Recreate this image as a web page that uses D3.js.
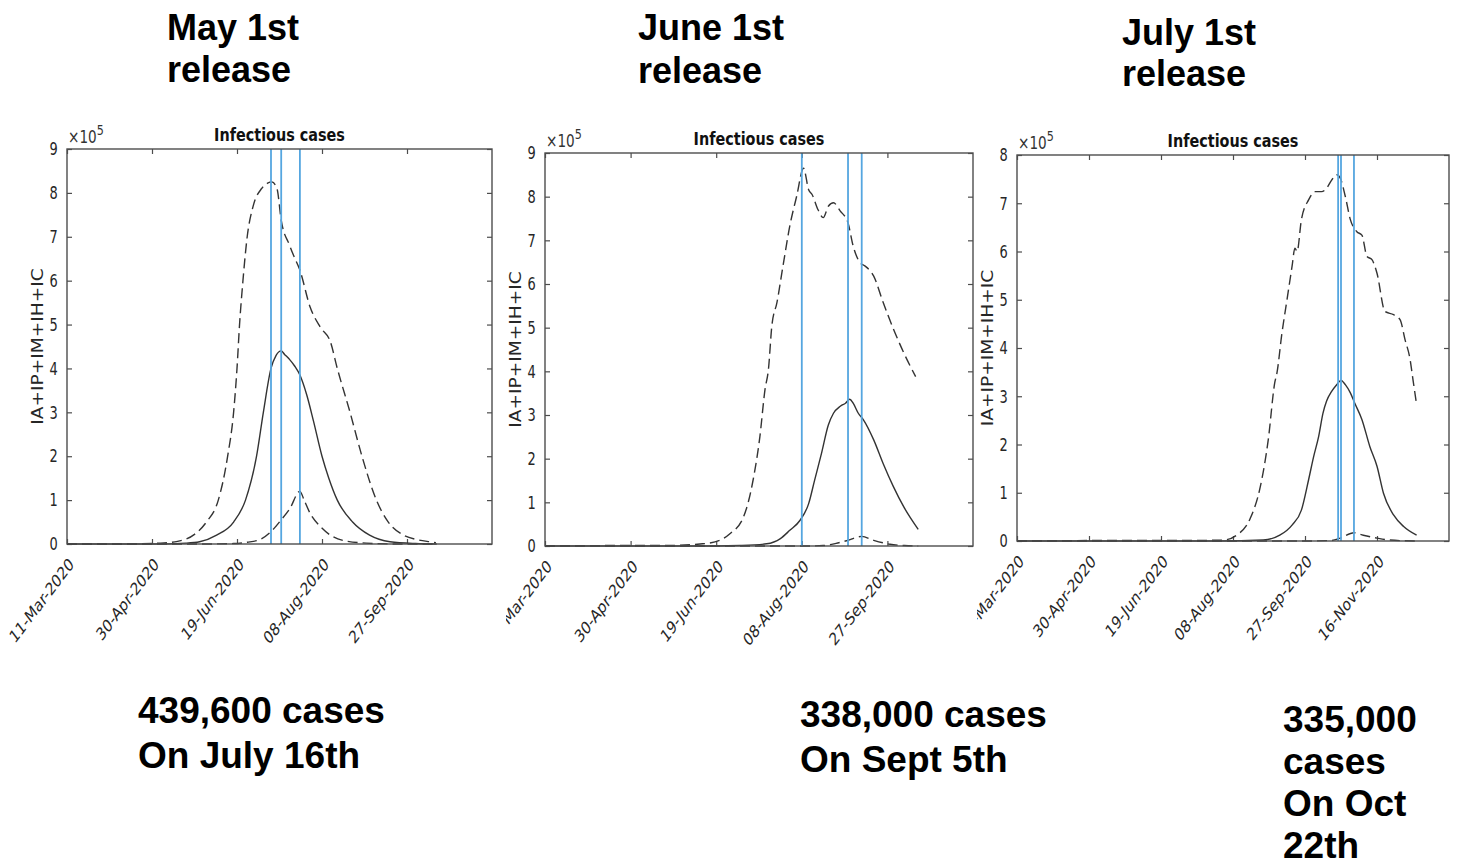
<!DOCTYPE html>
<html>
<head>
<meta charset="utf-8">
<script src="https://cdn.jsdelivr.net/npm/d3@7"></script>
<style>
  body { margin: 0; background: #fff; }
  .big { font-family: "Liberation Sans", Arial, sans-serif; font-weight: bold; fill: #000; }
  .ax text { font-family: "DejaVu Sans", sans-serif; fill: #262626; }
</style>
</head>
<body>
<script>
// values are in units of 10^5 cases, x is days after 11-Mar-2020
var startDate = "11-Mar-2020";
var ticksSpring = ["11-Mar-2020", "30-Apr-2020", "19-Jun-2020", "08-Aug-2020", "27-Sep-2020"];
var ticksAutumn = ["11-Mar-2020", "30-Apr-2020", "19-Jun-2020", "08-Aug-2020", "27-Sep-2020", "16-Nov-2020"];

var may_total = [[0,0],[30,0],[55,0.02],[65,0.06],[75,0.22],[82,0.5],[89,1.0],[94.5,2.0],[98,3.0],[100,4.0],[101.5,5.0],[103.5,6.0],[106,7.0],[109.5,7.7],[114.5,8.1],[118,8.22],[120.5,8.25],[123.5,8.1],[126,7.38],[131,6.8],[133,6.6],[137,6.24],[143,5.4],[149,4.94],[155,4.6],[159,4.0],[166.5,3.0],[173.5,2.0],[182,1.0],[189,0.5],[198,0.2],[206,0.1],[213.5,0.05],[217,0.03]];
var may_mid = [[0,0],[50,0],[70,0.02],[78,0.05],[88,0.2],[98,0.5],[105,1.0],[111.5,2.0],[115.5,3.0],[120,4.0],[123,4.3],[126,4.4],[128,4.32],[131,4.2],[134,4.05],[137,3.85],[141,3.4],[145,2.8],[150,2.0],[154,1.5],[159,1.0],[168,0.5],[178,0.2],[190,0.05],[205,0.01],[217.5,0]];
var may_low = [[0,0],[80,0],[98,0.01],[106,0.04],[113.5,0.1],[120.5,0.3],[126,0.55],[131,0.8],[137,1.2],[139.5,1.0],[143,0.7],[149,0.4],[155,0.2],[162.5,0.08],[176,0.02],[195,0],[217.5,0]];
var may_markers = ["09-Jul-2020", "15-Jul-2020", "26-Jul-2020"];

var june_total = [[0,0],[40,0.01],[70,0.01],[92,0.05],[102,0.13],[108,0.28],[116,0.67],[121.5,1.5],[125.5,2.5],[128.5,3.58],[130.5,4.04],[132.5,5.04],[135.5,5.58],[139,6.41],[143,7.33],[147,8.01],[151,8.65],[154,8.16],[156,8.05],[159.5,7.7],[162.5,7.52],[165.5,7.78],[168.5,7.86],[172.5,7.67],[177,7.4],[180,6.87],[184,6.49],[187,6.41],[192,6.18],[197.5,5.58],[203.5,4.97],[209.5,4.43],[216.5,3.88]];
var june_mid = [[0,0],[100,0],[114,0.01],[129.5,0.05],[137.5,0.17],[143,0.36],[149,0.59],[154,0.97],[157.5,1.51],[161.5,2.12],[165.5,2.77],[168.5,3.04],[172.5,3.2],[175.5,3.27],[178,3.36],[180,3.27],[183,3.04],[186,2.89],[192,2.43],[197.5,1.89],[203.5,1.36],[209.5,0.9],[218,0.38]];
var june_low = [[0,0],[150,0],[162.5,0.01],[170,0.06],[177,0.13],[185,0.22],[192,0.13],[201.5,0.04],[210,0.01],[218,0]];
var june_markers = ["08-Aug-2020", "04-Sep-2020", "12-Sep-2020"];

var july_total = [[0,0],[60,0.01],[120,0.01],[143.5,0.02],[152.5,0.12],[162,0.47],[169,1.13],[174.5,2.1],[179,3.28],[180.5,3.48],[184,4.31],[187.5,5.0],[191,5.69],[193,6.07],[194.5,6.0],[197.5,6.66],[202.5,7.07],[207,7.24],[211.5,7.24],[215,7.31],[218.5,7.48],[222,7.59],[224.5,7.52],[228,7.14],[231.5,6.66],[236,6.41],[239.5,6.34],[243,5.9],[246.5,5.83],[250,5.55],[255.5,4.76],[261.5,4.69],[266,4.59],[269.5,4.17],[273,3.76],[275,3.34],[277.5,2.83]];
var july_mid = [[0,0],[140,0],[171,0.02],[182.5,0.12],[191,0.33],[197.5,0.64],[202.5,1.27],[206,1.75],[209.5,2.17],[212.5,2.65],[215,2.9],[218.5,3.1],[222,3.24],[225,3.33],[228,3.24],[231.5,3.07],[234.5,2.86],[239.5,2.52],[245,1.96],[250,1.55],[254.5,0.99],[261.5,0.54],[268.5,0.3],[277.5,0.12]];
var july_low = [[0,0],[200,0],[218,0.01],[224.5,0.06],[234,0.17],[240.5,0.12],[250,0.06],[259,0.02],[277.5,0]];
var july_markers = ["20-Oct-2020", "22-Oct-2020", "31-Oct-2020"];

var headings = [["May 1st", "release"], ["June 1st", "release"], ["July 1st", "release"]];
var notes = [["439,600 cases", "On July 16th"], ["338,000 cases", "On Sept 5th"], ["335,000", "cases", "On Oct", "22th"]];

var parseDate = d3.timeParse("%d-%b-%Y");
var fmtDate = d3.timeFormat("%d-%b-%Y");
var t0 = parseDate(startDate);
function dayToDate(d) { return new Date(t0.getTime() + d * 864e5); }

var panels = [
  {left: 67, right: 492, top: 149, bottom: 544, ymax: 9, end: "16-Nov-2020", ticks: ticksSpring,
   series: [may_total, may_mid, may_low], markers: may_markers, clip: [0, 497],
   hx: 167, hy: [40, 82], nx: 138, ny: [723, 768]},
  {left: 545, right: 973, top: 153, bottom: 546, ymax: 9, end: "16-Nov-2020", ticks: ticksSpring,
   series: [june_total, june_mid, june_low], markers: june_markers, clip: [506, 976],
   hx: 638, hy: [40, 83], nx: 800, ny: [727, 772]},
  {left: 1017, right: 1449, top: 155, bottom: 541, ymax: 8, end: "05-Jan-2021", ticks: ticksAutumn,
   series: [july_total, july_mid, july_low], markers: july_markers, clip: [977, 1459],
   hx: 1122, hy: [45, 86], nx: 1283, ny: [732, 774, 816, 858]}
];

var svg = d3.select("body").append("svg")
    .attr("width", 1459)
    .attr("height", 865);

var defs = svg.append("defs");

panels.forEach(function(p, i) {
  defs.append("clipPath").attr("id", "clip" + i)
    .append("rect")
      .attr("x", p.clip[0]).attr("y", 100)
      .attr("width", p.clip[1] - p.clip[0]).attr("height", 560);

  var x = d3.scaleTime()
      .domain([t0, parseDate(p.end)])
      .range([p.left, p.right]);
  var y = d3.scaleLinear()
      .domain([0, p.ymax])
      .range([p.bottom, p.top]);

  var g = svg.append("g").attr("clip-path", "url(#clip" + i + ")");
  var tickDates = p.ticks.map(parseDate);

  // left axis with labels
  var gl = g.append("g").attr("class", "ax")
      .attr("transform", "translate(" + p.left + ",0)")
      .call(d3.axisLeft(y).ticks(p.ymax).tickSizeInner(-5).tickSizeOuter(0));
  gl.selectAll("text")
      .attr("x", -13)
      .attr("transform", "scale(0.72,1)")
      .style("font-size", "18px");

  g.append("g").attr("class", "ax")
      .attr("transform", "translate(" + p.right + ",0)")
      .call(d3.axisRight(y).ticks(p.ymax).tickSizeInner(-5).tickSizeOuter(0).tickFormat(""));

  var gb = g.append("g").attr("class", "ax")
      .attr("transform", "translate(0," + p.bottom + ")")
      .call(d3.axisBottom(x).tickValues(tickDates).tickFormat(fmtDate).tickSizeInner(-5).tickSizeOuter(0));
  gb.selectAll("text")
      .attr("x", 0).attr("y", 0).attr("dy", "0.35em")
      .attr("transform", "translate(4,17) scale(0.76,1) rotate(-45)")
      .style("text-anchor", "end")
      .style("font-size", "17.5px");

  g.append("g").attr("class", "ax")
      .attr("transform", "translate(0," + p.top + ")")
      .call(d3.axisTop(x).tickValues(tickDates).tickSizeInner(-5).tickSizeOuter(0).tickFormat(""));

  g.selectAll(".ax .domain").remove();
  g.selectAll(".ax line").attr("stroke", "#4d4d4d").attr("stroke-width", 1.2);

  // curves
  var line = d3.line()
      .x(function(d) { return x(dayToDate(d[0])); })
      .y(function(d) { return y(d[1]); })
      .curve(d3.curveMonotoneX);

  p.series.forEach(function(s, k) {
    g.append("path")
      .datum(s)
      .attr("d", line)
      .attr("fill", "none")
      .attr("stroke", "#333")
      .attr("stroke-width", 1.4)
      .attr("stroke-dasharray", k == 1 ? null : "10,5");
  });

  // vertical marker lines
  g.selectAll(".marker")
    .data(p.markers.map(parseDate))
    .enter().append("line")
      .attr("class", "marker")
      .attr("x1", function(d) { return x(d); })
      .attr("x2", function(d) { return x(d); })
      .attr("y1", p.top)
      .attr("y2", p.bottom)
      .attr("stroke", "#55a6e0")
      .attr("stroke-width", 1.8);

  // box
  g.append("rect")
      .attr("x", p.left).attr("y", p.top)
      .attr("width", p.right - p.left).attr("height", p.bottom - p.top)
      .attr("fill", "none")
      .attr("stroke", "#4d4d4d")
      .attr("stroke-width", 1.4);

  // title
  g.append("text")
      .attr("transform", "translate(" + (p.left + p.right) / 2 + "," + (p.top - 8) + ") scale(0.8,1)")
      .attr("text-anchor", "middle")
      .style("font-family", "DejaVu Sans, sans-serif")
      .style("font-weight", "bold")
      .style("font-size", "18px")
      .attr("fill", "#111")
      .text("Infectious cases");

  // exponent
  var ex = g.append("text")
      .attr("transform", "translate(" + (p.left + 1) + "," + (p.top - 6) + ") scale(0.8,1)")
      .style("font-family", "DejaVu Sans, sans-serif")
      .style("font-size", "17px")
      .attr("fill", "#333");
  ex.append("tspan").text("\u00d710");
  ex.append("tspan").attr("dy", -8).style("font-size", "14px").text("5");

  // y label
  g.append("text")
      .attr("transform", "translate(" + (p.left - 24) + "," + (p.top + p.bottom) / 2 + ") scale(0.88,1) rotate(-90)")
      .attr("text-anchor", "middle")
      .style("font-family", "DejaVu Sans, sans-serif")
      .style("font-size", "18.6px")
      .attr("fill", "#262626")
      .text("IA+IP+IM+IH+IC");

  // headings and notes
  headings[i].forEach(function(t, j) {
    svg.append("text").attr("class", "big")
      .attr("x", p.hx).attr("y", p.hy[j])
      .style("font-size", "36px")
      .text(t);
  });
  notes[i].forEach(function(t, j) {
    svg.append("text").attr("class", "big")
      .attr("x", p.nx).attr("y", p.ny[j])
      .style("font-size", "37px")
      .text(t);
  });
});
</script>
</body>
</html>
